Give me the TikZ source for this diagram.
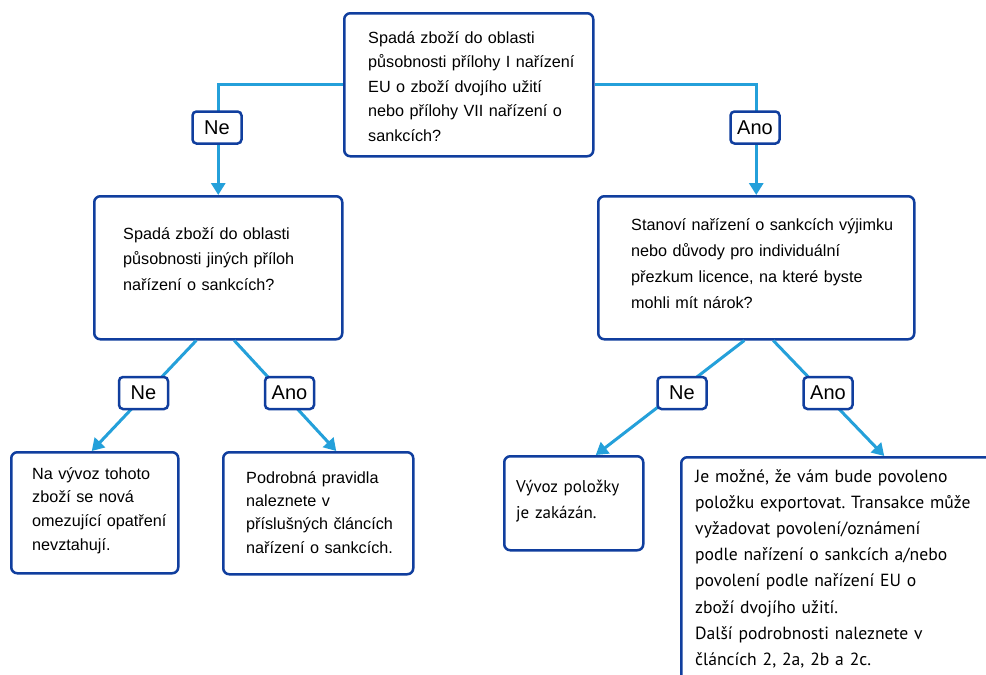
\documentclass[tikz,border=0pt]{standalone}
\usepackage{fontspec}
\setmainfont{Liberation Sans}
\newfontfamily\hum{PT Sans}
\usetikzlibrary{arrows.meta}
\definecolor{boxblue}{RGB}{16,62,158}
\definecolor{linkblue}{RGB}{36,160,218}
\frenchspacing
\begin{document}
\begin{tikzpicture}[x=1pt,y=-1pt,
  box/.style={draw=boxblue, line width=2.5pt, rounded corners=6pt, fill=white, anchor=north west, inner sep=0pt},
  lbl/.style={draw=boxblue, line width=2.5pt, rounded corners=4pt, fill=white, minimum width=49pt, minimum height=32pt, inner sep=0pt, font=\fontsize{20}{22}\selectfont},
  txt/.style={anchor=base west, inner sep=0pt, align=left, text width=320pt, font=\fontsize{16.2}{24.5}\selectfont},
  htxt/.style={anchor=base west, inner sep=0pt, align=left, text width=320pt, font=\hum\fontsize{17.6}{26.2}\selectfont},
  link/.style={draw=linkblue, line width=3pt},
  arr/.style={link, -{Triangle[width=14pt,length=12pt]}},
]
\clip (0,0) rectangle (986,675);
\fill[white] (0,0) rectangle (986,675);

% boxes
\node[box, minimum width=249pt, minimum height=143pt] (q1) at (343,12) {};
\node[box, minimum width=248pt, minimum height=143pt] (q2) at (93,195) {};
\node[box, minimum width=316pt, minimum height=143pt] (q3) at (597,195) {};
\node[box, minimum width=167pt, minimum height=121pt] (a1) at (10,451) {};
\node[box, minimum width=190pt, minimum height=122pt] (a2) at (222,451) {};
\node[box, minimum width=139pt, minimum height=94pt] (a3) at (503,455) {};
\node[box, minimum width=330pt, minimum height=240pt] (a4) at (680,456) {};

% texts
\node[txt] (q1t) at (368,43) {Spadá zboží do oblasti\\působnosti přílohy I nařízení\\EU o zboží dvojího užití\\nebo přílohy VII nařízení o\\sankcích?};
\node[txt, font=\fontsize{16.2}{25.5}\selectfont] (q2t) at (123,239) {Spadá zboží do oblasti\\působnosti jiných příloh\\nařízení o sankcích?};
\node[txt, font=\fontsize{16.2}{26}\selectfont] (q3t) at (631,230) {Stanoví nařízení o sankcích výjimku\\nebo důvody pro individuální\\přezkum licence, na které byste\\mohli mít nárok?};
\node[txt, font=\fontsize{16.2}{23.7}\selectfont] (a1t) at (32,479) {Na vývoz tohoto\\zboží se nová\\omezující opatření\\nevztahují.};
\node[txt, font=\fontsize{16.2}{23.4}\selectfont] (a2t) at (246,483) {Podrobná pravidla\\naleznete v\\příslušných článcích\\nařízení o sankcích.};
\node[htxt, font=\hum\fontsize{17}{26}\selectfont] (a3t) at (516,492) {Vývoz položky\\je zakázán.};
\node[htxt] (a4t) at (695,482) {Je možné, že vám bude povoleno\\položku exportovat. Transakce může\\vyžadovat povolení/oznámení\\podle nařízení o sankcích a/nebo\\povolení podle nařízení EU o\\zboží dvojího užití.\\Další podrobnosti naleznete v\\článcích 2, 2a, 2b a 2c.};

% connectors
\draw[arr] (q1.west) -| (q2.north);
\draw[arr] (q1.east) -| (q3.north);
\draw[arr] ([xshift=-22pt]q2.south) -- ([xshift=-3pt]a1.north);
\draw[arr] ([xshift=16pt]q2.south) -- ([xshift=18pt]a2.north);
\draw[arr] ([xshift=-12pt]q3.south) -- ([xshift=22pt]a3.north);
\draw[arr] ([xshift=17pt]q3.south) -- ([xshift=38pt]a4.north);

% labels
\node[lbl] (l1) at (217,127.5) {Ne};
\node[lbl] (l2) at (755,127.5) {Ano};
\node[lbl] (l3) at (143.5,393) {Ne};
\node[lbl] (l4) at (289.5,393) {Ano};
\node[lbl] (l5) at (682,393) {Ne};
\node[lbl] (l6) at (828,393) {Ano};
\end{tikzpicture}
\end{document}
